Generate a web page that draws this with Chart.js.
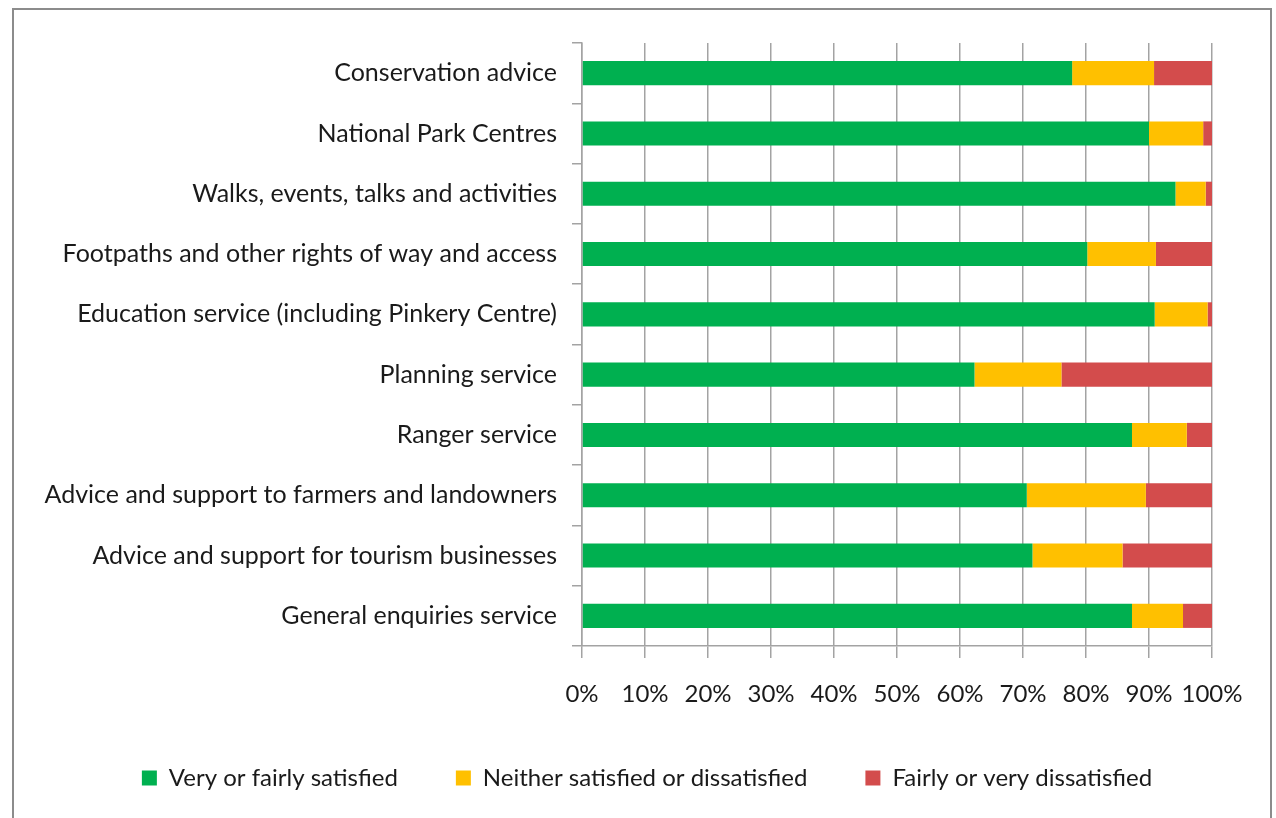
<!DOCTYPE html>
<html>
<head>
<meta charset="utf-8">
<script src="https://cdn.jsdelivr.net/npm/chart.js@4"></script>
<style>
  html, body { margin: 0; padding: 0; background: #fff; overflow: hidden; }
  #marco {
    position: absolute;
    left: 12px;
    top: 8px;
    width: 1256px;
    height: 838px;
    border: 2px solid #8c8c8c;
    background: #fff;
  }
  #grafico { display: block; }
</style>
</head>
<body>
<div id="marco">
  <canvas id="grafico" width="1256" height="790"></canvas>
</div>
<script>
// datos (porcentajes)

const servicios = [
  'Conservation advice',
  'National Park Centres',
  'Walks, events, talks and activities',
  'Footpaths and other rights of way and access',
  'Education service (including Pinkery Centre)',
  'Planning service',
  'Ranger service',
  'Advice and support to farmers and landowners',
  'Advice and support for tourism businesses',
  'General enquiries service'
]

const satisfechos = [77.8, 90.0, 94.2, 80.2, 90.9, 62.3, 87.3, 70.6, 71.5, 87.3]
const neutrales = [13.0, 8.6, 4.8, 10.9, 8.4, 13.8, 8.7, 18.9, 14.3, 8.1]
const insatisfechos = [9.2, 1.4, 1.0, 8.9, 0.7, 23.9, 4.0, 10.5, 14.2, 4.6]

const ticksX = [0, 10, 20, 30, 40, 50, 60, 70, 80, 90, 100]

const nombresSeries = [
  'Very or fairly satisfied',
  'Neither satisfied or dissatisfied',
  'Fairly or very dissatisfied'
]

// grafico

const gris = '#a3a3a3'
const texto = '#1a1a1a'
const fuente = { family: 'Lato', size: 24 }
const fuenteCategorias = { family: 'Lato', size: 25 }

// las etiquetas largas pasan el padding izquierdo, que no se recorten
const sinRecorte = {
  id: 'sinRecorte',
  afterLayout(chart) {
    chart.scales.y.left = 0
  }
}

const ctx = document.getElementById('grafico').getContext('2d')

new Chart(ctx, {
  type: 'bar',
  data: {
    labels: servicios,
    datasets: [
      { label: nombresSeries[0], data: satisfechos, backgroundColor: '#00b050' },
      { label: nombresSeries[1], data: neutrales, backgroundColor: '#ffc000' },
      { label: nombresSeries[2], data: insatisfechos, backgroundColor: '#d34c4c' }
    ]
  },
  plugins: [sinRecorte],
  options: {
    indexAxis: 'y',
    responsive: false,
    animation: false,
    barPercentage: 0.4,
    categoryPercentage: 1,
    layout: {
      padding: { top: 33, right: 58, left: 68, bottom: 0 }
    },
    plugins: {
      legend: {
        position: 'bottom',
        labels: {
          font: fuente,
          color: texto,
          boxWidth: 15,
          boxHeight: 15,
          padding: 58
        }
      },
      tooltip: { enabled: false }
    },
    scales: {
      x: {
        stacked: true,
        min: 0,
        max: 100,
        afterBuildTicks: (escala) => {
          escala.ticks = ticksX.map(v => ({ value: v }))
        },
        afterFit: (escala) => { escala.height = 62 },
        ticks: {
          font: fuente,
          color: texto,
          padding: 22,
          maxRotation: 0,
          autoSkip: false,
          callback: (v) => v + '%'
        },
        grid: {
          color: gris,
          lineWidth: 1.5,
          tickLength: 12
        },
        border: { color: gris, width: 1.5 }
      },
      y: {
        stacked: true,
        afterFit: (escala) => { escala.width = 500 },
        ticks: {
          font: fuenteCategorias,
          color: texto,
          padding: 15
        },
        grid: {
          drawOnChartArea: false,
          color: gris,
          lineWidth: 1.5,
          tickLength: 10
        },
        border: { color: gris, width: 1.5 }
      }
    }
  }
})
</script>
</body>
</html>
